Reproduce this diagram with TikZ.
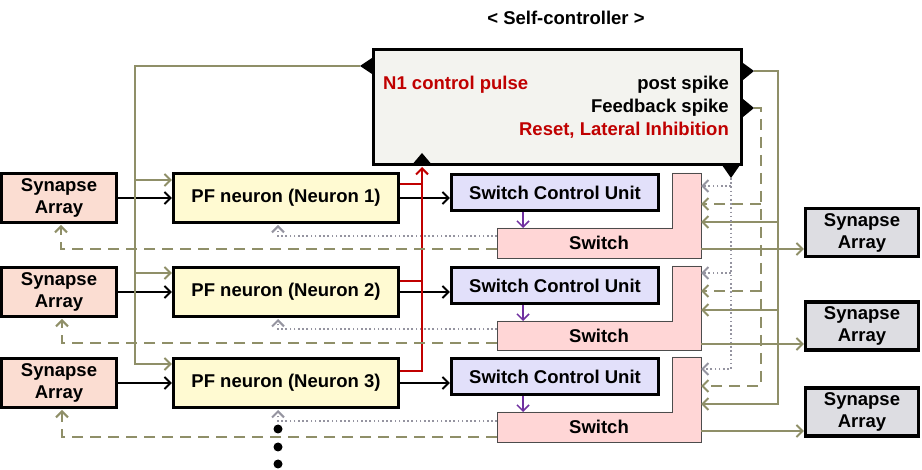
\documentclass[tikz,border=0pt]{standalone}
\usepackage{fontspec}
\setmainfont{Liberation Sans}
\usetikzlibrary{arrows.meta}
\definecolor{oliv}{HTML}{8F8F68}
\definecolor{dotc}{HTML}{9594A0}
\definecolor{redc}{HTML}{C00000}
\definecolor{purp}{HTML}{7030A0}
\definecolor{slfill}{HTML}{FBDDD2}
\definecolor{pffill}{HTML}{FFFAD2}
\definecolor{scufill}{HTML}{E2E0FA}
\definecolor{swfill}{HTML}{FFD6D6}
\definecolor{srfill}{HTML}{DDDDE2}
\definecolor{scfill}{HTML}{F3F3EF}
\begin{document}
\begin{tikzpicture}[x=1pt,y=-1pt,
  lbl/.style={font=\fontsize{18.5}{22}\selectfont\bfseries, inner sep=0pt, align=center},
  box/.style={lbl, draw=black, line width=3.2pt},
  tipa/.style={-{Straight Barb[length=6pt,width=12pt]}},
  olv/.style={draw=oliv, line width=2pt},
  olvd/.style={olv, dash pattern=on 11pt off 7pt},
  dotln/.style={draw=dotc, line width=2pt, dash pattern=on 1.6pt off 2.6pt},
  blk/.style={draw=black, line width=2pt},
  redl/.style={draw=redc, line width=2pt},
  swbox/.style={draw=black!70, line width=0.8pt, fill=swfill},
  port/.style={fill=black, draw=none}
]
\useasboundingbox (0,0) rectangle (922,470);

% title
\node[lbl] (title) at (566,18) {< Self-controller >};

% self-controller
\node[box, fill=scfill, minimum width=368pt, minimum height=115pt] (sc) at (557.5,107) {};
\node[lbl, text=redc, anchor=west] (n1) at (383,85) {N1 control pulse};
\node[lbl, anchor=east] (ps) at (729,85) {post spike};
\node[lbl, anchor=east] (fs) at (729,108) {Feedback spike};
\node[lbl, text=redc, anchor=east] (rl) at (729,130) {Reset, Lateral Inhibition};

% left synapse arrays and PF neurons
\foreach \i/\y in {1/198, 2/292, 3/383} {
  \node[box, fill=slfill, minimum width=115pt, minimum height=49pt] (sl\i) at (59,\y) {Synapse\\Array};
  \node[box, fill=pffill, minimum width=225pt, minimum height=49pt] (pf\i) at (286,\y) {PF neuron (Neuron \i)};
}
% switch control units
\foreach \i/\y in {1/192.5, 2/285.5, 3/376.5} {
  \node[box, fill=scufill, minimum width=207pt, minimum height=36pt] (scu\i) at (555,\y) {Switch Control Unit};
}
% switches (L shape)
\foreach \i/\t/\h/\b in {1/173/228/258, 2/266/321/350, 3/357/412/442} {
  \draw[swbox] (672,\t) -- (701,\t) -- (701,\b) -- (497,\b) -- (497,\h) -- (672,\h) -- cycle;
  \node[lbl] (sw\i) at (599,{(\h+\b)/2}) {Switch};
  \coordinate (swr\i) at (701,\t);
  \coordinate (swl\i) at (497,\h);
}
% right synapse arrays
\foreach \i/\y in {1/232.5, 2/326, 3/412} {
  \node[box, fill=srfill, minimum width=113pt, minimum height=48pt] (sr\i) at (862,\y) {Synapse\\Array};
}

% black arrows
\foreach \i in {1,2,3} {
  \draw[blk, tipa] (sl\i.east) -- (pf\i.west);
  \draw[blk, tipa] (pf\i.east) -- (pf\i.east -| scu\i.west);
  \draw[purp, line width=1.5pt, draw=purp, tipa] ([xshift=-32pt]scu\i.south) -- ([xshift=-32pt]scu\i.south |- swl\i);
}

% left olive feed from self-controller to PF neurons
\coordinate (lp) at (360,66);
\draw[olv, tipa] (lp) -- (135,66) -- (135,364) -- (pf3.west |- 0,364);
\draw[olv, tipa] (135,180) -- (pf1.west |- 0,180);
\draw[olv, tipa] (135,273) -- (pf2.west |- 0,273);

% red lines to self-controller
\draw[redl] (pf1.east |- 0,184) -- (422,184);
\draw[redl] (pf2.east |- 0,281) -- (422,281);
\draw[redl, tipa] (pf3.east |- 0,371) -- (422,371) -- (422,167);

% right side feedback lines
\coordinate (rp1) at (754,71);
\coordinate (rp2) at (754,108);
\coordinate (bp) at (731,178);
\draw[olv, tipa] (rp1) -- (778,71) -- (778,404) -- (swr3 |- 0,404);
\draw[olv, tipa] (778,222) -- (swr1 |- 0,222);
\draw[olv, tipa] (778,310) -- (swr2 |- 0,310);
\draw[olvd, tipa] (rp2) -- (761,108) -- (761,386) -- (swr3 |- 0,386);
\draw[olvd, tipa] (761,204) -- (swr1 |- 0,204);
\draw[olvd, tipa] (761,291) -- (swr2 |- 0,291);
\draw[dotln, tipa] (bp) -- (731,369) -- (swr3 |- 0,369);
\draw[dotln, tipa] (731,186) -- (swr1 |- 0,186);
\draw[dotln, tipa] (731,273) -- (swr2 |- 0,273);

% switch outputs to right synapse arrays
\draw[olv, tipa] (701,249) -- (sr1.west |- 0,249);
\draw[olv, tipa] (701,344) -- (sr2.west |- 0,344);
\draw[olv, tipa] (701,431) -- (sr3.west |- 0,431);

% returns to left synapse arrays (dashed) and PF neurons (dotted)
\draw[olvd, tipa] (497,249) -- (61,249) -- (61,225);
\draw[olvd, tipa] (497,343) -- (62,343) -- (62,319);
\draw[olvd, tipa] (497,437) -- (62,437) -- (62,410);
\draw[dotln, tipa] (497,236) -- (278,236) -- (278,225);
\draw[dotln, tipa] (497,329) -- (278,329) -- (278,319);
\draw[dotln, tipa] (497,421) -- (278,421) -- (278,410);

% ports of the self-controller
\fill[port] (372,58) -- (360,66) -- (372,74) -- cycle;
\fill[port] (743,63) -- (754,71) -- (743,80) -- cycle;
\fill[port] (743,99) -- (754,108) -- (743,117) -- cycle;
\fill[port] (722,165) -- (731,178) -- (740,165) -- cycle;
\fill[port] (411,166) -- (422,153) -- (433,166) -- cycle;

% continuation dots
\foreach \y [count=\k] in {429,447,464} {
  \fill[black] (278,\y) circle (4.5pt) coordinate (dt\k);
}
\end{tikzpicture}
\end{document}
